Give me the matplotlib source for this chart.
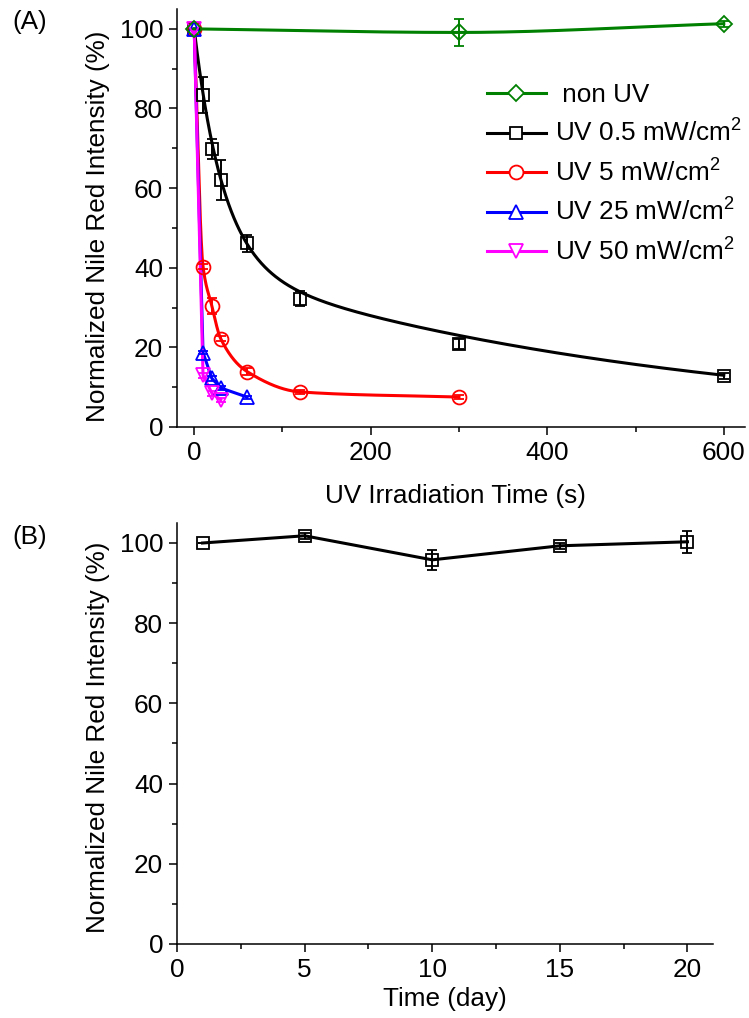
import numpy as np
import matplotlib
matplotlib.use("Agg")
import matplotlib.pyplot as plt
from matplotlib.lines import Line2D
from matplotlib.ticker import MultipleLocator

# ---- data, panel A (UV irradiation time in s, normalized intensity in %) ----
time_nonuv = [0, 300, 600]
int_nonuv = [100, 99.1, 101.3]
err_nonuv = [0, 3.3, 0.8]

time_05 = [0, 10, 20, 30, 60, 120, 300, 600]
int_05 = [100, 83.4, 69.8, 62.0, 46.1, 32.2, 20.8, 12.8]
err_05 = [0, 4.5, 2.5, 5.0, 2.2, 1.9, 1.2, 0.8]

time_5 = [0, 10, 20, 30, 60, 120, 300]
int_5 = [100, 40.3, 30.4, 22.2, 13.9, 8.8, 7.5]
err_5 = [0, 0.7, 2.0, 0.7, 0.8, 0.5, 0.5]

time_25 = [0, 10, 20, 30, 60]
int_25 = [100, 18.7, 12.2, 9.8, 7.5]
err_25 = [0, 0.5, 0.6, 0.6, 0.4]

time_50 = [0, 10, 20, 30]
int_50 = [100, 13.0, 8.5, 6.8]
err_50 = [0, 0.6, 0.6, 0.5]

# double exponential fit of the 0.5 mW/cm2 curve (a1, t1, a2, t2)
fit_05 = [59.3, 33.0, 40.7, 525.0]

labels_a = [" non UV", "UV 0.5 mW/cm$^2$", "UV 5 mW/cm$^2$",
            "UV 25 mW/cm$^2$", "UV 50 mW/cm$^2$"]

# ---- data, panel B (storage time in days) ----
days = [1, 5, 10, 15, 20]
int_days = [100, 101.8, 95.8, 99.3, 100.3]
err_days = [0, 0.8, 2.5, 0.8, 2.8]


def pchip(x, y, xn):
    """monotone cubic through the points (smooth line like origin's spline)"""
    x = np.asarray(x, float)
    y = np.asarray(y, float)
    h = np.diff(x)
    d = np.diff(y) / h
    m = np.zeros_like(y)
    m[0], m[-1] = d[0], d[-1]
    for k in range(1, len(x) - 1):
        if d[k - 1] * d[k] > 0:
            w1 = 2 * h[k] + h[k - 1]
            w2 = h[k] + 2 * h[k - 1]
            m[k] = (w1 + w2) / (w1 / d[k - 1] + w2 / d[k])
    idx = np.clip(np.searchsorted(x, xn) - 1, 0, len(x) - 2)
    t = (xn - x[idx]) / h[idx]
    h00 = 2 * t**3 - 3 * t**2 + 1
    h10 = t**3 - 2 * t**2 + t
    h01 = -2 * t**3 + 3 * t**2
    h11 = t**3 - t**2
    return (h00 * y[idx] + h10 * h[idx] * m[idx]
            + h01 * y[idx + 1] + h11 * h[idx] * m[idx + 1])


plt.rcParams["font.family"] = ["Liberation Sans", "DejaVu Sans"]
plt.rcParams["font.size"] = 18.8
plt.rcParams["mathtext.fontset"] = "custom"
plt.rcParams["mathtext.rm"] = "Liberation Sans"
plt.rcParams["mathtext.it"] = "Liberation Sans:italic"
plt.rcParams["mathtext.bf"] = "Liberation Sans:bold"

fig = plt.figure(figsize=(7.49, 10.18), dpi=100)
ax1 = fig.add_axes([0.2363, 0.5806, 0.7583, 0.4106])
ax2 = fig.add_axes([0.2363, 0.0727, 0.7156, 0.4136])

green = "#008000"
series = [
    (time_05, int_05, err_05, "black", "s", 8.5),
    (time_5, int_5, err_5, "red", "o", 10),
    (time_25, int_25, err_25, "blue", "^", 10),
    (time_50, int_50, err_50, "magenta", "v", 10),
    (time_nonuv, int_nonuv, err_nonuv, green, "D", 8.5),
]

# lines
xs = np.linspace(0, 600, 600)
a1, t1, a2, t2 = fit_05
ax1.plot(xs, a1 * np.exp(-xs / t1) + a2 * np.exp(-xs / t2), color="black", lw=2.2, zorder=2)
xr = np.linspace(0, 300, 600)
ax1.plot(xr, pchip(time_5, int_5, xr), color="red", lw=2.2, zorder=2)
ax1.plot(time_25, int_25, color="blue", lw=2.2, zorder=2)
ax1.plot(time_50, int_50, color="magenta", lw=2.2, zorder=2)
ax1.plot(xs, pchip(time_nonuv, int_nonuv, xs), color=green, lw=2.2, zorder=2)

# points with error bars
for t, v, e, c, m, ms in series:
    ax1.errorbar(t, v, yerr=e, fmt=m, ms=ms, mfc="none", mec=c, mew=1.3,
                 ecolor=c, elinewidth=1.4, capsize=3.8, capthick=1.4, zorder=3)

handles = [Line2D([], [], color=c, lw=2.2, marker=m, ms=ms, mfc="white", mec=c, mew=1.3)
           for _, _, _, c, m, ms in [series[4]] + series[:4]]
ax1.legend(handles, labels_a, loc="upper left", bbox_to_anchor=(0.546, 0.822),
           frameon=False, borderpad=0, borderaxespad=0, handlelength=2.25,
           handletextpad=0.35, labelspacing=0.47, numpoints=1)

ax1.set_xlim(-19.5, 624)
ax1.set_ylim(0, 105)
ax1.xaxis.set_major_locator(MultipleLocator(200))
ax1.xaxis.set_minor_locator(MultipleLocator(100))
ax1.set_xlabel("UV Irradiation Time (s)")
ax1.xaxis.set_label_coords(0.49, -0.136)

# panel B
ax2.errorbar(days, int_days, yerr=err_days, fmt="s-", color="black", lw=2.2, ms=8.5,
             mfc="none", mec="black", mew=1.3, elinewidth=1.4, capsize=3.8, capthick=1.4)
ax2.set_xlim(0, 21)
ax2.set_ylim(0, 105)
ax2.xaxis.set_major_locator(MultipleLocator(5))
ax2.xaxis.set_minor_locator(MultipleLocator(2.5))
ax2.set_xlabel("Time (day)")
ax2.xaxis.set_label_coords(0.5, -0.102)

for ax in (ax1, ax2):
    ax.spines["top"].set_visible(False)
    ax.spines["right"].set_visible(False)
    for s in ("left", "bottom"):
        ax.spines[s].set_linewidth(1.1)
    ax.yaxis.set_major_locator(MultipleLocator(20))
    ax.yaxis.set_minor_locator(MultipleLocator(10))
    ax.tick_params(which="major", direction="out", length=6, width=1.1, pad=4)
    ax.tick_params(which="minor", direction="out", length=3.5, width=1.1)
    ax.set_ylabel("Normalized Nile Red Intensity (%)")
ax1.yaxis.set_label_coords(-0.118, 0.48)
ax2.yaxis.set_label_coords(-0.125, 0.49)

fig.text(0.016, 1 - 22 / 1018, "(A)", va="center", ha="left")
fig.text(0.016, 1 - 537 / 1018, "(B)", va="center", ha="left")

fig.savefig("out.png", dpi=100)
